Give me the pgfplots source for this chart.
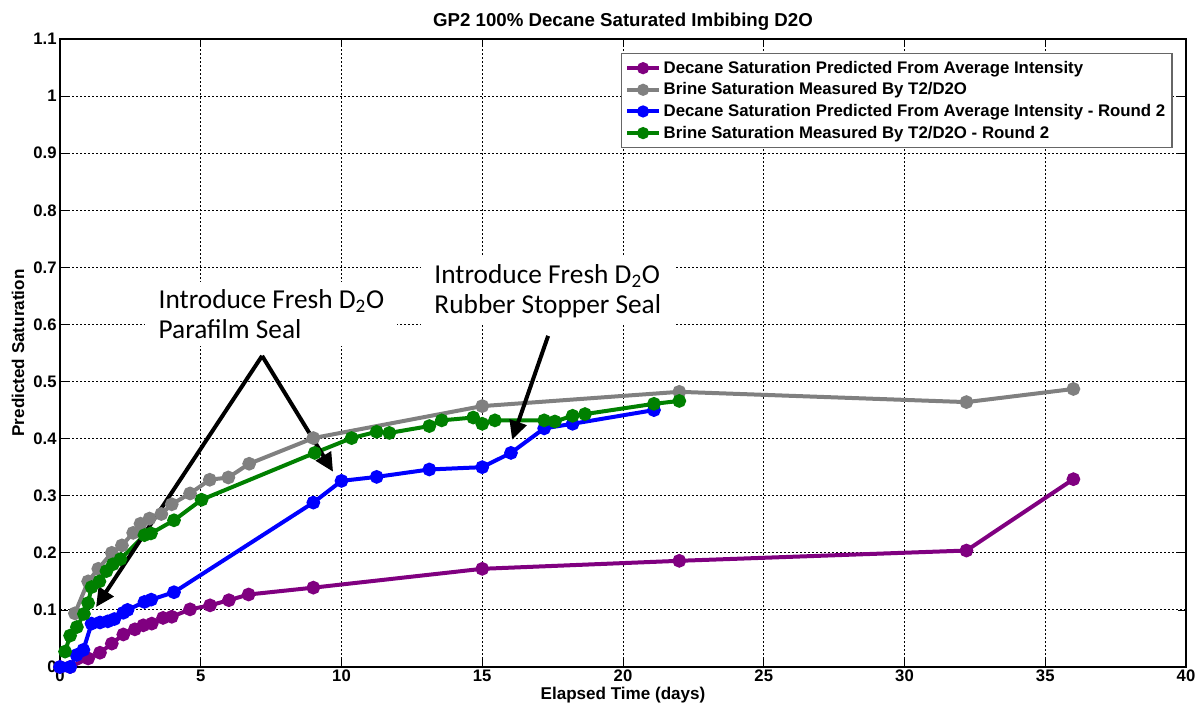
\documentclass[border=0pt]{standalone}
\usepackage{pgfplots}
\pgfplotsset{compat=1.18}
\usepackage{fontspec}
\setmainfont{Liberation Sans}
\newfontfamily\calibri{Carlito}
\usetikzlibrary{arrows.meta}
\definecolor{cpurple}{RGB}{128,0,128}
\definecolor{cgray}{RGB}{128,128,128}
\definecolor{cblue}{RGB}{0,0,255}
\definecolor{cgreen}{RGB}{0,128,0}
\begin{document}
\begin{tikzpicture}
\useasboundingbox (-45pt,-30.75pt) rectangle (854.25pt,500.25pt);
\begin{axis}[
  scale only axis,
  width=844.5pt, height=471pt,
  xmin=0, xmax=40, ymin=0, ymax=1.1,
  xtick={0,5,...,40},
  ytick={0,0.1,0.2,0.3,0.4,0.5,0.6,0.7,0.8,0.9,1,1.1},
  yticklabels={0,0.1,0.2,0.3,0.4,0.5,0.6,0.7,0.8,0.9,1,1.1},
  tick align=inside,
  major tick length=6pt,
  tick style={black, line width=0.6pt},
  axis line style={black, line width=0.8pt},
  grid=major,
  major grid style={black, line width=0.7pt, dash pattern=on 1.2pt off 1.8pt},
  /pgf/number format/assume math mode=true,
  ticklabel style={font=\bfseries\fontsize{12.5}{14}\selectfont},
  xticklabel style={yshift=1.5pt},
  yticklabel style={xshift=1pt},
  xlabel={Elapsed Time (days)},
  ylabel={Predicted Saturation},
  label style={font=\bfseries\fontsize{12.8}{14}\selectfont},
  xlabel style={yshift=2.5pt},
  ylabel style={yshift=0pt},
  title={GP2 100\% Decane Saturated Imbibing D2O},
  title style={font=\bfseries\fontsize{14}{16}\selectfont, yshift=-3pt},
  clip=false,
  every axis plot/.append style={line width=3pt, mark=*, mark size=3.6pt},
  legend style={at={(0.988,0.978)}, anchor=north east, draw=black!60, line width=0.8pt,
    font=\bfseries\fontsize{12.6}{14}\selectfont, row sep=0pt, inner sep=3pt,
    nodes={inner ysep=2.8pt}},
  legend cell align=left,
  legend image code/.code={\draw[#1, mark repeat=2, mark phase=2, line width=3pt, mark size=3pt] plot coordinates {(0cm,0cm) (0.42cm,0cm) (0.84cm,0cm)};},
]
\addplot[color=cpurple, mark options={fill=cpurple}] coordinates {
(0,0) (0.36,0) (1.0,0.015) (1.42,0.025) (1.84,0.041) (2.25,0.057) (2.66,0.066) (2.96,0.073) (3.26,0.076) (3.66,0.086) (3.97,0.088) (4.62,0.101) (5.33,0.108) (6.0,0.117) (6.7,0.127) (9.0,0.139) (15.0,0.172) (22.0,0.186) (32.2,0.204) (36.0,0.329)};
\addlegendentry{Decane Saturation Predicted From Average Intensity}
\addplot[color=cgray, mark options={fill=cgray}] coordinates {
(0.53,0.094) (1.0,0.15) (1.36,0.172) (1.84,0.2) (2.2,0.213) (2.6,0.235) (2.86,0.251) (3.18,0.26) (3.6,0.268) (3.97,0.285) (4.62,0.304) (5.32,0.328) (5.98,0.332) (6.72,0.356) (9.0,0.401) (15.0,0.457) (22.0,0.482) (32.2,0.464) (36.0,0.487)};
\addlegendentry{Brine Saturation Measured By T2/D2O}
\addplot[color=cblue, mark options={fill=cblue}] coordinates {
(0,0) (0.36,0) (0.59,0.021) (0.83,0.03) (1.12,0.076) (1.42,0.078) (1.7,0.08) (1.93,0.084) (2.25,0.095) (2.4,0.1) (3.0,0.114) (3.24,0.118) (4.05,0.131) (9.0,0.288) (10.0,0.326) (11.25,0.333) (13.12,0.346) (15.0,0.35) (16.02,0.375) (17.2,0.418) (18.21,0.426) (21.1,0.45)};
\addlegendentry{Decane Saturation Predicted From Average Intensity - Round 2}
\addplot[color=cgreen, mark options={fill=cgreen}] coordinates {
(0.18,0.027) (0.36,0.055) (0.6,0.07) (0.85,0.093) (1.0,0.112) (1.12,0.14) (1.4,0.15) (1.65,0.168) (1.88,0.18) (2.15,0.189) (3.0,0.231) (3.23,0.234) (4.05,0.257) (5.03,0.293) (9.05,0.375) (10.36,0.401) (11.25,0.412) (11.7,0.41) (13.12,0.422) (13.56,0.432) (14.68,0.437) (15.0,0.426) (15.45,0.432) (17.2,0.432) (17.58,0.43) (18.21,0.44) (18.65,0.443) (21.1,0.461) (22.0,0.466)};
\addlegendentry{Brine Saturation Measured By T2/D2O - Round 2}

\node[fill=white, anchor=north west, align=left, inner xsep=10pt, inner ysep=5pt,
  font=\calibri\fontsize{20.5}{23}\selectfont] at (axis cs:3.02,0.674)
  {Introduce Fresh D\textsubscript{2}O\\Parafilm Seal};
\node[fill=white, anchor=north west, align=left, inner xsep=10pt, inner ysep=5pt,
  font=\calibri\fontsize{20.5}{23}\selectfont] at (axis cs:12.82,0.718)
  {Introduce Fresh D\textsubscript{2}O\\Rubber Stopper Seal};
\draw[line width=3pt, -{Triangle[length=14pt,width=13pt]}] (axis cs:7.18,0.545) -- (axis cs:1.28,0.105);
\draw[line width=3pt, -{Triangle[length=14pt,width=13pt]}] (axis cs:7.18,0.545) -- (axis cs:9.7,0.342);
\draw[line width=3pt, -{Triangle[length=14pt,width=13pt]}] (axis cs:17.34,0.58) -- (axis cs:16.06,0.398);
\end{axis}
\end{tikzpicture}
\end{document}
